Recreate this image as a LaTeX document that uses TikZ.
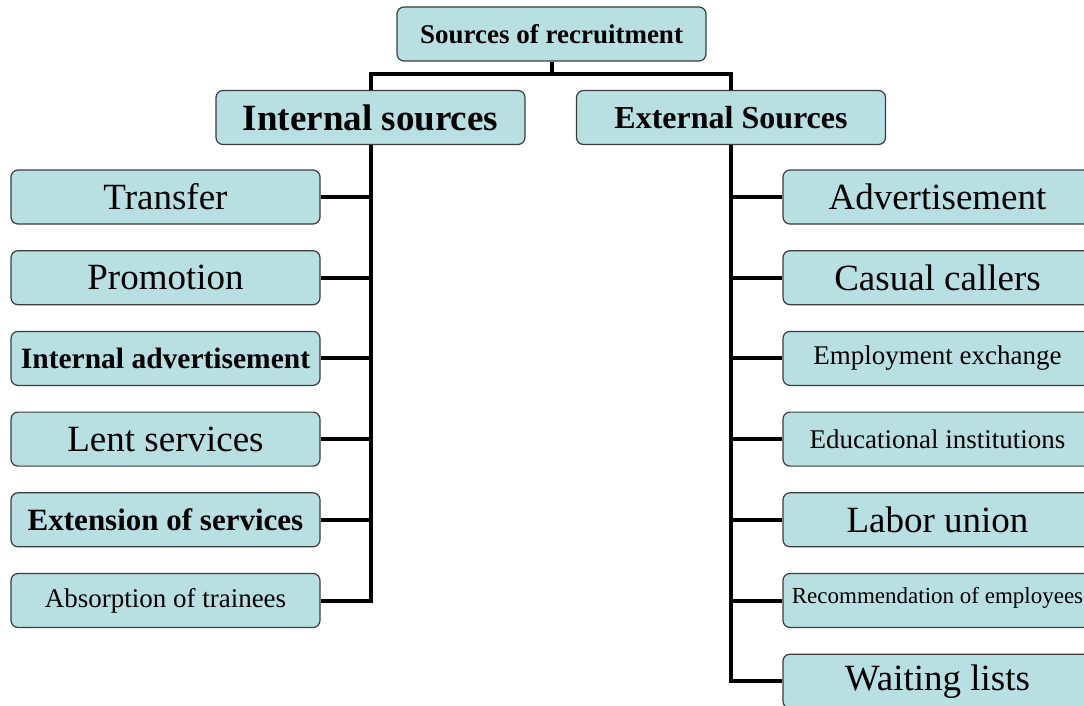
\documentclass[tikz,border=0pt]{standalone}
\usepackage{fontspec}
\setmainfont{Liberation Serif}
\usetikzlibrary{chains, positioning}

\definecolor{boxfill}{RGB}{184,223,226}
\definecolor{boxline}{RGB}{60,60,60}

\tikzset{
  box/.style={draw=boxline, fill=boxfill, rounded corners=7pt, line width=1.2pt,
    minimum width=309pt, minimum height=54pt, inner sep=0pt},
  bigtxt/.style={box, font=\fontsize{37}{40}\selectfont},
  boldtxt/.style={box, font=\fontsize{31}{34}\selectfont\bfseries},
  smalltxt/.style={box, font=\fontsize{27}{30}\selectfont},
  link/.style={line width=4pt}
}

\begin{document}
\begin{tikzpicture}[x=1pt, y=-1pt, node distance=25.5pt]
    \useasboundingbox (0,0) rectangle (1084,706);
    \clip (0,0) rectangle (1084,706);

    \node[box, font=\fontsize{27}{30}\selectfont\bfseries] (src) at (551.5,34) {Sources of recruitment};
    \node[box, font=\fontsize{37}{40}\selectfont\bfseries] (int) at (370.5,117.5) {Internal sources};
    \node[box, font=\fontsize{32}{35}\selectfont\bfseries] (ext) at (731,117.5) {External Sources};

    \begin{scope}[start chain=going below]
      \node[on chain, bigtxt] (i1) at (165.5,197) {Transfer};
      \node[on chain, bigtxt] (i2)   {Promotion};
      \node[on chain, boldtxt, font=\fontsize{29.5}{32}\selectfont\bfseries] (i3) {Internal advertisement};
      \node[on chain, bigtxt] (i4)   {Lent services};
      \node[on chain, boldtxt] (i5)  {Extension of services};
      \node[on chain, smalltxt] (i6) {Absorption of trainees};
    \end{scope}

    \begin{scope}[start chain=going below]
      \node[on chain, bigtxt] (e1) at (937.5,197) {Advertisement};
      \node[on chain, bigtxt] (e2)   {Casual callers};
      \node[on chain, smalltxt] (e3) {Employment exchange};
      \node[on chain, smalltxt] (e4) {Educational institutions};
      \node[on chain, bigtxt] (e5)   {Labor union};
      \node[on chain, box, font=\fontsize{23}{26}\selectfont] (e6) {\raisebox{10pt}{Recommendation of employees}};
      \node[on chain, bigtxt] (e7)   {Waiting lists};
    \end{scope}

    \draw[link] (src.south) -- ++(0,12) coordinate (hub);
    \draw[link] (int.north) |- (hub) -| (ext.north);
    \draw[link] (int.south) |- (i6.east);
    \draw[link] (ext.south) |- (e7.west);
    \foreach \n in {i1,i2,i3,i4,i5}
      \draw[link] (\n.east) -- (\n.east -| int.south);
    \foreach \n in {e1,e2,e3,e4,e5,e6}
      \draw[link] (\n.west) -- (\n.west -| ext.south);
  \end{tikzpicture}
\end{document}
